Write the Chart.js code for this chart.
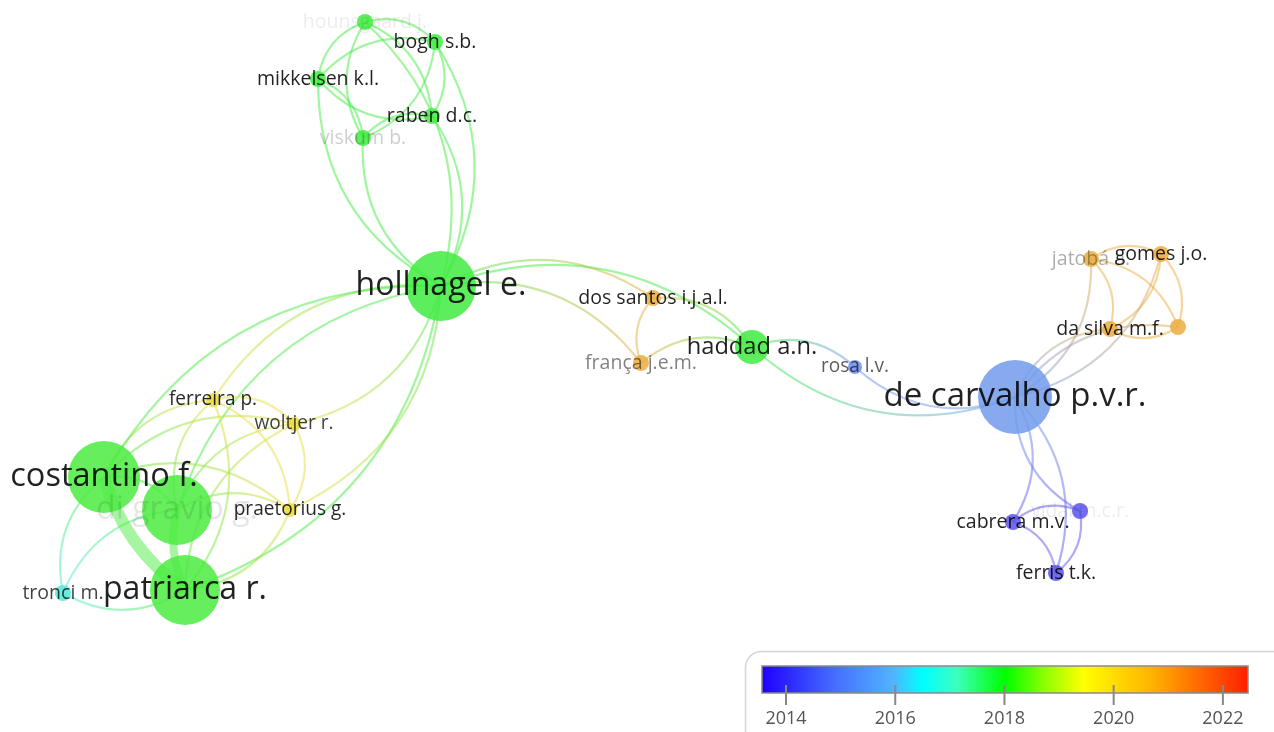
<!DOCTYPE html>
<html>
<head>
<meta charset="utf-8">
<script src="https://cdn.jsdelivr.net/npm/chart.js@4.4.1/dist/chart.umd.min.js"></script>
<style>
  html, body { margin: 0; padding: 0; background: #fff; }
  #wrap { width: 1274px; height: 732px; }
</style>
</head>
<body>
<div id="wrap"><canvas id="myChart" width="1274" height="732"></canvas></div>
<script>
// authors (node labels), map positions, weights and average publication year
const authors = ['hollnagel e.', 'haddad a.n.', 'de carvalho p.v.r.', 'costantino f.', 'di gravio g.',
  'patriarca r.', 'tronci m.', 'ferreira p.', 'woltjer r.', 'praetorius g.',
  'hounsgaard j.', 'bogh s.b.', 'mikkelsen k.l.', 'raben d.c.', 'viskum b.',
  'dos santos i.j.a.l.', 'frança j.e.m.', 'rosa l.v.', 'jatobá a.', 'gomes j.o.',
  'da silva m.f.', '', 'cabrera m.v.', 'vidal m.c.r.', 'ferris t.k.'];
const mapX = [441, 752, 1015, 104, 177, 185, 63, 213, 294, 290, 365, 435, 318, 432, 363,
  653, 641, 855, 1091, 1161, 1110, 1178, 1013, 1080, 1056];
const mapY = [286, 347, 397, 477, 510, 590, 593, 400, 424, 510, 22, 42, 79, 116, 138,
  298, 363, 367, 259, 254, 329, 327, 522, 511, 573];
const weights = [35, 17, 37, 36, 35, 35, 8, 7, 7, 7, 8, 8, 8, 8, 8, 8, 8, 7, 8, 8, 8, 8, 8, 8, 8];
const avgYear = [2018.0, 2018.0, 2015.3, 2018.1, 2018.1, 2018.1, 2016.8, 2019.8, 2019.8, 2019.8,
  2018.0, 2018.0, 2018.0, 2018.0, 2018.0, 2020.9, 2020.9, 2015.0, 2020.9, 2020.9,
  2020.9, 2020.9, 2013.9, 2013.9, 2013.9];
// co-authorship links: [from, to, strength]
const links = [
  [10, 11, 1], [12, 10, 1], [10, 13, 1], [14, 10, 1], [12, 11, 1], [11, 13, 1], [11, 14, 1],
  [13, 12, 1], [12, 14, 1], [14, 13, 1],
  [11, 0, 1], [10, 0, 1], [0, 12, 1], [0, 14, 1], [13, 0, 1],
  [3, 0, 1], [4, 0, 1], [0, 5, 1], [7, 0, 1], [0, 8, 1], [0, 9, 1],
  [6, 3, 1], [5, 6, 1], [6, 4, 1], [5, 3, 5], [5, 4, 3], [3, 4, 1],
  [3, 7, 1], [3, 8, 1], [3, 9, 1], [4, 7, 1], [4, 8, 1], [4, 9, 1],
  [7, 5, 1], [5, 8, 1], [9, 5, 1], [7, 8, 1], [7, 9, 1], [8, 9, 1],
  [0, 1, 1], [0, 15, 1], [0, 16, 1], [16, 15, 1], [16, 1, 1], [15, 1, 1],
  [2, 1, 1], [1, 17, 1], [2, 17, 1],
  [18, 2, 1], [19, 2, 1], [2, 20, 1], [2, 21, 1],
  [18, 19, 1], [18, 20, 1], [18, 21, 1], [19, 20, 1], [19, 21, 1], [21, 20, 1],
  [2, 22, 1], [23, 2, 1], [2, 24, 1], [22, 23, 1], [22, 24, 1], [23, 24, 1]
];
const yearTicks = [2014, 2016, 2018, 2020, 2022];
const yearMin = 2013.56, yearMax = 2022.46;

// label look (fade for overlapping labels)
const labelAlpha = [0.87, 0.87, 0.87, 0.87, 0.1, 0.87, 0.75, 0.85, 0.75, 0.85,
  0.08, 0.87, 0.87, 0.87, 0.2, 0.87, 0.5, 0.65, 0.33, 0.87, 0.87, 0, 0.87, 0.08, 0.87];

// rainbow colour map of the overlay
const cmap = [
  [0.00, [30, 0, 255]], [0.15, [70, 110, 255]], [0.27, [80, 180, 255]], [0.33, [0, 255, 255]],
  [0.40, [60, 255, 190]], [0.50, [0, 255, 0]], [0.58, [140, 255, 0]], [0.66, [255, 255, 0]],
  [0.80, [255, 180, 0]], [1.00, [255, 30, 0]]
];
function yearColor(y) {
  let t = Math.min(1, Math.max(0, (y - yearMin) / (yearMax - yearMin)));
  for (let i = 1; i < cmap.length; i++) {
    if (t <= cmap[i][0]) {
      const a = cmap[i - 1], b = cmap[i];
      const f = (t - a[0]) / (b[0] - a[0]);
      return a[1].map((v, k) => v + (b[1][k] - v) * f);
    }
  }
  return cmap[cmap.length - 1][1];
}
function nodeRGB(i) {
  return yearColor(avgYear[i]).map(v => Math.round((v * 0.72 + 255 * 0.28) * 0.92));
}
const rgba = (c, a) => `rgba(${c[0]},${c[1]},${c[2]},${a})`;

const linkPlugin = {
  id: 'links',
  beforeDatasetsDraw(chart) {
    const c = chart.ctx, sx = chart.scales.x, sy = chart.scales.y;
    c.save();
    links.forEach(([a, b, s]) => {
      const x1 = sx.getPixelForValue(mapX[a]), y1 = sy.getPixelForValue(mapY[a]);
      const x2 = sx.getPixelForValue(mapX[b]), y2 = sy.getPixelForValue(mapY[b]);
      const dx = x2 - x1, dy = y2 - y1;
      const k = s > 2 ? 0.18 : 0.3;
      const cx = (x1 + x2) / 2 + k * dy, cy = (y1 + y2) / 2 - k * dx;
      const g = c.createLinearGradient(x1, y1, x2, y2);
      g.addColorStop(0, rgba(nodeRGB(a), 0.5));
      g.addColorStop(1, rgba(nodeRGB(b), 0.5));
      c.strokeStyle = g;
      c.lineWidth = s > 1 ? 2 + s * 2 : 2.2;
      c.beginPath();
      c.moveTo(x1, y1);
      c.quadraticCurveTo(cx, cy, x2, y2);
      c.stroke();
    });
    c.restore();
  }
};

const labelPlugin = {
  id: 'labels',
  afterDatasetsDraw(chart) {
    const c = chart.ctx, sx = chart.scales.x, sy = chart.scales.y;
    c.save();
    c.textAlign = 'center';
    c.textBaseline = 'middle';
    authors.forEach((name, i) => {
      if (!name) return;
      const fs = 15.8 + 0.465 * weights[i];
      c.font = `${fs}px "Open Sans"`;
      c.fillStyle = `rgba(0,0,0,${labelAlpha[i]})`;
      c.fillText(name, sx.getPixelForValue(mapX[i]), sy.getPixelForValue(mapY[i]));
    });
    c.restore();
  }
};

const colorbarPlugin = {
  id: 'colorbar',
  afterDraw(chart) {
    const c = chart.ctx;
    c.save();
    // legend box
    c.beginPath();
    c.roundRect(745.5, 651.5, 560, 110, 16);
    c.fillStyle = '#fff';
    c.fill();
    c.strokeStyle = '#d4d4d4';
    c.lineWidth = 1.5;
    c.stroke();
    const x0 = 762, x1 = 1248, y0 = 666, y1 = 693;
    const g = c.createLinearGradient(x0, 0, x1, 0);
    cmap.forEach(([t, col]) => g.addColorStop(t, rgba(col, 1)));
    c.fillStyle = g;
    c.fillRect(x0, y0, x1 - x0, y1 - y0);
    c.strokeStyle = '#8a8a8a';
    c.lineWidth = 1.5;
    c.strokeRect(x0, y0, x1 - x0, y1 - y0);
    c.font = '18px "Open Sans"';
    c.fillStyle = '#555';
    c.textAlign = 'center';
    c.textBaseline = 'middle';
    yearTicks.forEach(yr => {
      const x = x0 + (yr - yearMin) / (yearMax - yearMin) * (x1 - x0);
      c.strokeStyle = '#888';
      c.lineWidth = 2;
      c.beginPath();
      c.moveTo(x, 685);
      c.lineTo(x, 705);
      c.stroke();
      c.fillText(String(yr), x, 719);
    });
    c.restore();
  }
};

const ctx = document.getElementById('myChart');
const chart = new Chart(ctx, {
  type: 'bubble',
  data: {
    datasets: [{
      data: authors.map((a, i) => ({ x: mapX[i], y: mapY[i], r: weights[i] })),
      backgroundColor: authors.map((a, i) => rgba(nodeRGB(i), 0.86)),
      borderWidth: 0,
      clip: false
    }]
  },
  options: {
    responsive: false,
    animation: false,
    events: [],
    layout: { padding: 0, autoPadding: false },
    plugins: { legend: { display: false }, tooltip: { enabled: false } },
    scales: {
      x: { type: 'linear', min: 0, max: 1274, display: false },
      y: { type: 'linear', min: 0, max: 732, reverse: true, display: false }
    }
  },
  plugins: [linkPlugin, labelPlugin, colorbarPlugin]
});
</script>
</body>
</html>
